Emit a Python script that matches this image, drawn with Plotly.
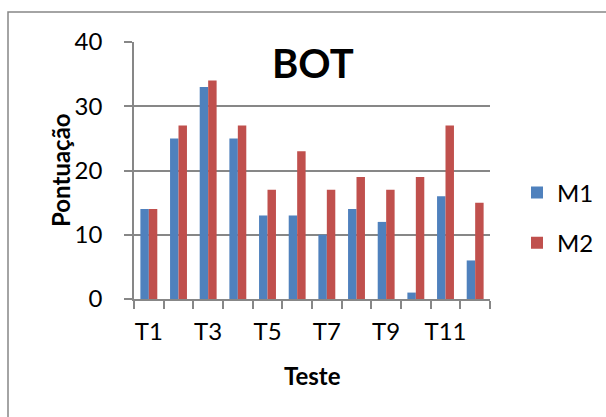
import plotly.graph_objects as go

categories = ["T1", "T2", "T3", "T4", "T5", "T6", "T7", "T8", "T9", "T10", "T11", "T12"]
m1 = [14, 25, 33, 25, 13, 13, 10, 14, 12, 1, 16, 6]
m2 = [14, 27, 34, 27, 17, 23, 17, 19, 17, 19, 27, 15]
tick_text = [c if i % 2 == 0 else "" for i, c in enumerate(categories)]

FONT = "Lato, Carlito, Calibri, sans-serif"
GRID = "#878787"

fig = go.Figure()
fig.add_trace(go.Bar(x=categories, y=m1, name="M1", marker_color="#4F81BD",
                     marker_line_width=0, legendgroup="a"))
fig.add_trace(go.Bar(x=categories, y=m2, name="M2", marker_color="#C0504D",
                     marker_line_width=0, legendgroup="b"))

W, H = 606, 417
L, R, T, B = 134, 116, 42, 118
pw, ph = W - L - R, H - T - B

def px(x):
    return (x - L) / pw

def py(y):
    return (H - B - y) / ph

fig.update_layout(
    width=W, height=H,
    margin=dict(l=L, r=R, t=T, b=B, pad=0, autoexpand=False),
    paper_bgcolor="white", plot_bgcolor="white",
    font=dict(family=FONT, size=24, color="black"),
    barmode="group", bargap=0.43, bargroupgap=0,
    showlegend=True,
    legend=dict(x=px(517), y=py(218), xanchor="left", yanchor="middle",
                font=dict(size=24), tracegroupgap=16, bgcolor="rgba(0,0,0,0)",
                itemclick=False),
    xaxis=dict(type="category", tickmode="array", tickvals=categories, ticktext=tick_text,
               tickson="boundaries", ticks="outside", ticklen=8, tickcolor=GRID, tickwidth=1.5,
               showline=True, linecolor=GRID, linewidth=1.5, showgrid=False,
               tickangle=0, automargin=False,
               tickfont=dict(size=24), ticklabelstandoff=10),
    yaxis=dict(range=[0, 40], tickvals=[0, 10, 20, 30, 40], ticks="outside", ticklen=8,
               tickcolor=GRID, tickwidth=1.5, showline=True, linecolor=GRID, linewidth=1.5,
               showgrid=True, gridcolor=GRID, gridwidth=1.5, zeroline=False,
               automargin=False,
               tickfont=dict(size=24), ticklabelstandoff=17),
    shapes=[dict(type="rect", xref="paper", yref="paper",
                 x0=px(8), x1=px(640), y0=py(450), y1=py(12),
                 line=dict(color="#868686", width=1.5), layer="below")],
    annotations=[
        dict(text="<b>BOT</b>", x=px(313), y=py(63), xref="paper", yref="paper",
             xanchor="center", yanchor="middle", showarrow=False,
             font=dict(size=40, family=FONT)),
        dict(text="<b>Pontuação</b>", x=px(60), y=py(170), xref="paper", yref="paper",
             xanchor="center", yanchor="middle", showarrow=False, textangle=-90,
             font=dict(size=24, family=FONT)),
        dict(text="<b>Teste</b>", x=px(312), y=py(375), xref="paper", yref="paper",
             xanchor="center", yanchor="middle", showarrow=False,
             font=dict(size=24, family=FONT)),
    ],
)

fig.write_html("out.html", config={"displayModeBar": False},
               post_script="document.body.style.margin='0';document.body.style.overflow='hidden';")
